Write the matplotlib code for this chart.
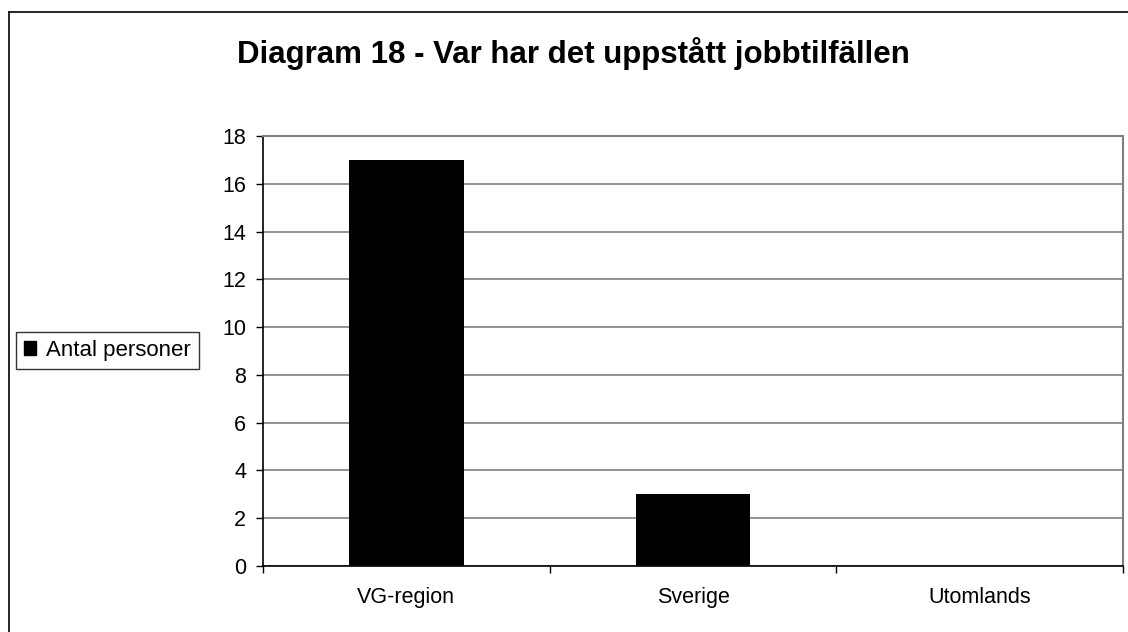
import matplotlib
matplotlib.use("Agg")
import matplotlib.pyplot as plt
from matplotlib.patches import Patch
from matplotlib.lines import Line2D

categories = ["VG-region", "Sverige", "Utomlands"]
values = [17, 3, 0]
yticks = [0, 2, 4, 6, 8, 10, 12, 14, 16, 18]
title = "Diagram 18 - Var har det uppstått jobbtilfällen"
series_name = "Antal personer"

plt.rcParams['font.family'] = ['Liberation Sans', 'DejaVu Sans']

W, H = 1128, 632
fig = plt.figure(figsize=(W / 100, H / 100), dpi=100)
fig.patch.set_facecolor("white")

# outer chart border (left and top visible; right/bottom cropped)
fig.add_artist(Line2D([9 / W, 9 / W], [0, 1 - 12 / H], transform=fig.transFigure, color="black", lw=1.2))
fig.add_artist(Line2D([9 / W, 1], [1 - 12 / H, 1 - 12 / H], transform=fig.transFigure, color="black", lw=1.2))

left, right, top, bottom = 263, 1123, 136, 566
ax = fig.add_axes([left / W, 1 - bottom / H, (right - left) / W, (bottom - top) / H])

x = list(range(len(categories)))
ax.bar(x, values, width=0.4, color="black", zorder=3)
ax.set_xlim(-0.5, len(categories) - 0.5)
ax.set_ylim(0, 18)
ax.set_yticks(yticks)
ax.yaxis.grid(True, color="#808080", lw=1.2, zorder=0)
ax.set_axisbelow(True)

ax.set_xticks([i - 0.5 for i in range(len(categories) + 1)])
ax.set_xticklabels([])
ax.set_xticks(x, minor=True)
ax.set_xticklabels(categories, minor=True)
ax.tick_params(axis="x", which="major", direction="out", length=5, width=1)
ax.tick_params(axis="x", which="minor", length=0, pad=15, labelsize=15.5)
ax.tick_params(axis="y", direction="out", length=5, width=1, pad=7, labelsize=15.5)

for s in ["left", "bottom"]:
    ax.spines[s].set_color("black")
    ax.spines[s].set_linewidth(1.2)
for s in ["top", "right"]:
    ax.spines[s].set_color("#808080")
    ax.spines[s].set_linewidth(1.5)

fig.text(237 / W, 1 - 53 / H, title, ha="left", va="center", fontsize=22.5, fontweight="bold")

handle = Patch(facecolor="black", edgecolor="black")
leg = fig.legend([handle], [series_name], loc="upper left",
                 bbox_to_anchor=(16 / W, 1 - 332 / H), borderaxespad=0,
                 fontsize=16, frameon=True, fancybox=False, handlelength=0.55,
                 handleheight=0.55, handletextpad=0.45, borderpad=0.35)
leg.get_frame().set_edgecolor("black")
leg.get_frame().set_linewidth(1.0)

fig.savefig("out.png", dpi=100)
